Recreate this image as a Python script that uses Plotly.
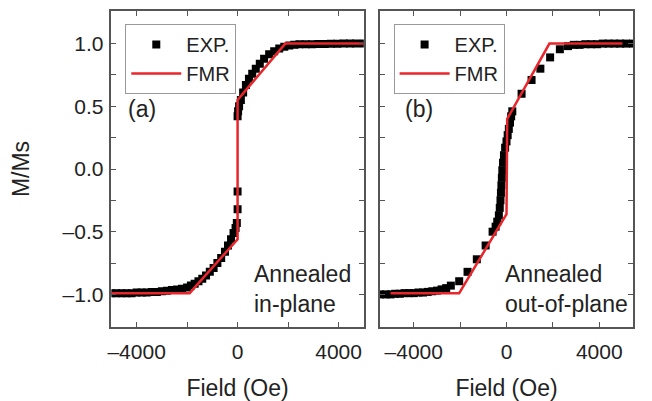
import plotly.graph_objects as go

# ---------------- data ----------------
# Panel (a): annealed, in-plane
exp_a_field = [-5000, -4800, -4600, -4400, -4200, -4000, -3800, -3600, -3400, -3200,
               -3000, -2800, -2600, -2400, -2200, -2000, -1850, -1700, -1550, -1400,
               -1250, -1100, -950, -800, -650, -500, -380, -260, -160, -80, -30,
               0, 0,
               0, 20, 60, 130, 220, 330, 450, 580, 720, 880, 1050, 1250, 1450, 1650,
               1850, 2050, 2250, 2450, 2700, 2950, 3200, 3450, 3700, 3950, 4200, 4450,
               4700, 5000]
exp_a_m = [-0.99, -0.99, -0.99, -0.99, -0.99, -0.985, -0.985, -0.985, -0.98, -0.98,
           -0.975, -0.97, -0.965, -0.96, -0.955, -0.945, -0.93, -0.915, -0.895, -0.875,
           -0.85, -0.82, -0.79, -0.75, -0.71, -0.66, -0.61, -0.56, -0.51, -0.47, -0.43,
           -0.32, -0.18,
           0.42, 0.46, 0.50, 0.55, 0.61, 0.67, 0.72, 0.76, 0.80, 0.84, 0.88, 0.915, 0.94, 0.96,
           0.975, 0.985, 0.99, 0.995, 0.995, 0.995, 0.997, 0.997, 0.998, 0.998, 1.0, 1.0,
           1.0, 1.0]
fmr_a_field = [-5000, -1900, 0, 0, 1890, 5000]
fmr_a_m = [-0.99, -0.99, -0.56, 0.55, 1.0, 1.0]

# Panel (b): annealed, out-of-plane
exp_b_field = [-5450, -5200, -5000, -4800, -4600, -4400, -4200, -4000, -3800, -3600,
               -3400, -3200, -3000, -2800, -2600, -2400, -2040, -1680, -1280, -900,
               -600, -470, -400, -330, -290, -260, -240, -220, -200, -180, -150, -110,
               -60, 0, 50, 100, 150, 200, 250,
               650, 1080, 1460, 1880, 2300, 2650, 2900, 3150, 3400, 3650, 3900, 4150,
               4400, 4650, 4900, 5150, 5450]
exp_b_m = [-1.0, -1.0, -1.0, -0.995, -0.995, -0.99, -0.99, -0.99, -0.985, -0.985,
           -0.98, -0.975, -0.97, -0.96, -0.95, -0.93, -0.895, -0.82, -0.72, -0.61,
           -0.50, -0.46, -0.42, -0.37, -0.31, -0.25, -0.19, -0.13, -0.07, -0.01, 0.05, 0.11,
           0.17, 0.22, 0.27, 0.32, 0.37, 0.42, 0.46,
           0.60, 0.71, 0.80, 0.89, 0.955, 0.98, 0.99, 0.99, 0.995, 0.995, 0.995, 1.0,
           1.0, 1.0, 1.0, 1.0, 1.0]
fmr_b_field = [-5000, -2040, 0, 30, 1850, 5000]
fmr_b_m = [-0.99, -0.99, -0.36, 0.40, 1.0, 1.0]

x_tickvals = [-4000, 0, 4000]
x_ticktext = ["\u20134000", "0", "4000"]
y_tickvals = [-1.0, -0.5, 0.0, 0.5, 1.0]
y_ticktext = ["\u20131.0", "\u20130.5", "0.0", "0.5", "1.0"]

# ---------------- figure ----------------
FONT = "Liberation Sans, Arial, sans-serif"
TXT = "#222222"
RED = "#e8262b"
AX = "#555555"
OFF = 8                      # page body margin
W, H = 652 - OFF, 401 - OFF


def px(xp):
    return (xp - OFF) / W


def py(yp):
    return 1 - (yp - OFF) / H


fig = go.Figure()

fig.add_trace(go.Scatter(x=exp_a_field, y=exp_a_m, mode="markers", name="EXP.",
                         marker=dict(symbol="square", size=8, color="black"),
                         xaxis="x", yaxis="y", legend="legend"))
fig.add_trace(go.Scatter(x=fmr_a_field, y=fmr_a_m, mode="lines", name="FMR",
                         line=dict(color=RED, width=2.5),
                         xaxis="x", yaxis="y", legend="legend"))
fig.add_trace(go.Scatter(x=exp_b_field, y=exp_b_m, mode="markers", name="EXP.",
                         marker=dict(symbol="square", size=8, color="black"),
                         xaxis="x2", yaxis="y2", legend="legend2"))
fig.add_trace(go.Scatter(x=fmr_b_field, y=fmr_b_m, mode="lines", name="FMR",
                         line=dict(color=RED, width=2.5),
                         xaxis="x2", yaxis="y2", legend="legend2"))

ydom = [py(327), py(11)]
axcommon = dict(showline=True, linecolor=AX, linewidth=1.5, mirror="allticks",
                ticks="inside", ticklen=5, tickwidth=1.2, tickcolor=AX,
                showgrid=False, zeroline=False,
                tickfont=dict(family=FONT, size=21, color=TXT))

xa = dict(axcommon, tickmode="array", tickvals=x_tickvals, ticktext=x_ticktext,
          ticklabelstandoff=5,
          minor=dict(ticks="inside", ticklen=5, tickcolor=AX, tickwidth=1.2,
                     tickvals=[-2000, 2000]),
          title=dict(text="Field (Oe)", font=dict(family=FONT, size=23, color=TXT),
                     standoff=18))
ya = dict(axcommon, tickmode="array", tickvals=y_tickvals, ticktext=y_ticktext,
          minor=dict(ticks="inside", ticklen=5, tickcolor=AX, tickwidth=1.2,
                     tickvals=[-0.75, -0.25, 0.25, 0.75]),
          range=[-1.26, 1.26], domain=ydom)

legcommon = dict(yanchor="top", xanchor="left", bgcolor="white",
                 bordercolor="#999999", borderwidth=1,
                 font=dict(family=FONT, size=20, color=TXT), itemwidth=50,
                 tracegroupgap=0)

txtfont = dict(family=FONT, size=23, color=TXT)

fig.update_layout(
    width=W, height=H, margin=dict(l=0, r=0, t=0, b=0),
    paper_bgcolor="white", plot_bgcolor="white",
    showlegend=True,
    xaxis=dict(xa, domain=[px(108), px(362)], range=[-5000, 5000], anchor="y"),
    yaxis=dict(ya, anchor="x", ticklabelstandoff=2,
               title=dict(text="M/Ms", font=dict(family=FONT, size=23, color=TXT),
                          standoff=28)),
    xaxis2=dict(xa, domain=[px(378.4), px(632.8)], range=[-5450, 5450], anchor="y2"),
    yaxis2=dict(ya, anchor="x2", showticklabels=False),
    legend=dict(legcommon, x=px(122), y=py(24)),
    legend2=dict(legcommon, x=px(392), y=py(24)),
    annotations=[
        dict(text="(a)", x=px(139), y=py(109), xref="paper", yref="paper",
             xanchor="center", yanchor="middle",
             showarrow=False, font=txtfont),
        dict(text="(b)", x=px(418), y=py(109), xref="paper", yref="paper",
             xanchor="center", yanchor="middle",
             showarrow=False, font=txtfont),
        dict(text="Annealed<br>in-plane", x=px(249), y=py(289), xref="paper",
             yref="paper", xanchor="left", yanchor="middle", align="left",
             showarrow=False, font=txtfont),
        dict(text="Annealed<br>out-of-plane", x=px(502), y=py(289), xref="paper",
             yref="paper", xanchor="left", yanchor="middle", align="left",
             showarrow=False, font=txtfont),
    ],
)

fig.write_html("out.html")
